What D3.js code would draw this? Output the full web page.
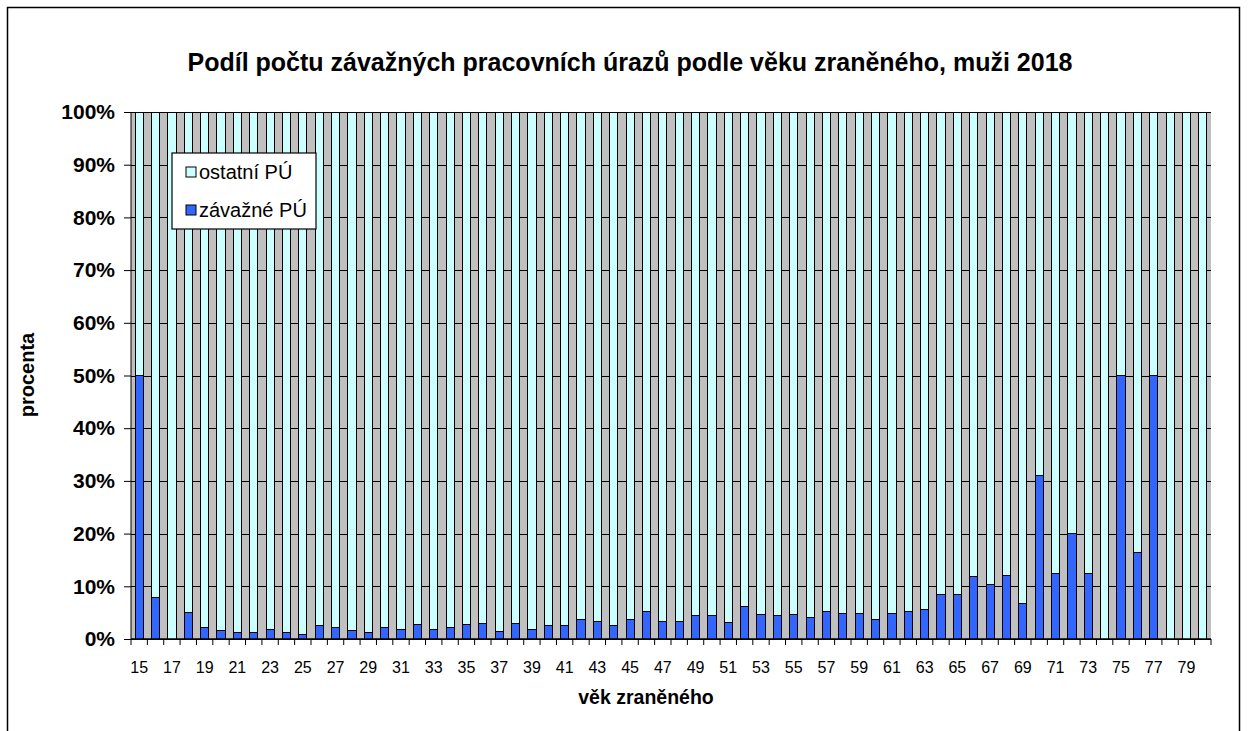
<!DOCTYPE html>
<meta charset="utf-8">
<style>
body { margin: 0; background: #fff; }
text { font-family: "Liberation Sans", Arial, sans-serif; fill: #000; }
.grid line { stroke: #000; stroke-width: 1px; shape-rendering: crispEdges; }
.bar { stroke: #000; stroke-width: 1px; shape-rendering: crispEdges; }
</style>
<body>
<script src="https://d3js.org/d3.v7.min.js"></script>
<script>
// categories: age of the injured person
var ages = ["15","16","17","18","19","20","21","22","23","24","25","26","27","28","29","30","31","32","33","34","35","36","37","38","39","40","41","42","43","44","45","46","47","48","49","50","51","52","53","54","55","56","57","58","59","60","61","62","63","64","65","66","67","68","69","70","71","72","73","74","75","76","77","78","79","80"];

// share of serious injuries (%)
var zavazne = [50,7.8,0,5.1,2.1,1.6,1.3,1.3,1.8,1.3,0.9,2.5,2.2,1.6,1.2,2.2,1.8,2.8,1.8,2.2,2.8,3.0,1.5,3.0,1.8,2.5,2.5,3.7,3.4,2.5,3.7,5.3,3.4,3.4,4.4,4.4,3.1,6.2,4.7,4.4,4.7,4.1,5.3,4.9,4.9,3.7,4.9,5.3,5.6,8.4,8.4,11.8,10.4,12.0,6.7,31.1,12.4,20,12.4,0,50,16.5,50,0,0,0];

// share of other injuries (%)
var ostatni = [50,92.2,100,94.9,97.9,98.4,98.7,98.7,98.2,98.7,99.1,97.5,97.8,98.4,98.8,97.8,98.2,97.2,98.2,97.8,97.2,97.0,98.5,97.0,98.2,97.5,97.5,96.3,96.6,97.5,96.3,94.7,96.6,96.6,95.6,95.6,96.9,93.8,95.3,95.6,95.3,95.9,94.7,95.1,95.1,96.3,95.1,94.7,94.4,91.6,91.6,88.2,89.6,88.0,93.3,68.9,87.6,80,87.6,100,50,83.5,50,100,100,100];

var yTicks = [0,10,20,30,40,50,60,70,80,90,100];
var xLabels = ages.filter(function(d, i) { return i % 2 === 0; });

var W = 1248, H = 731;
var margin = {top: 112, right: 37, bottom: 92, left: 131};
var width = W - margin.left - margin.right,
    height = H - margin.top - margin.bottom;

var svg = d3.select("body").append("svg")
    .attr("width", W)
    .attr("height", H);

// outer frame
svg.append("rect")
    .attr("x", 7.5).attr("y", 7.5)
    .attr("width", 1232).attr("height", 800)
    .attr("fill", "none").attr("stroke", "#000").attr("stroke-width", 1.5);

var g = svg.append("g")
    .attr("transform", "translate(" + margin.left + "," + margin.top + ")");

var x = d3.scaleBand().domain(ages).range([0, width]).paddingInner(0.5).paddingOuter(0.25);
var y = d3.scaleLinear().domain([0, 100]).range([height, 0]);

// plot background
g.append("rect")
    .attr("width", width).attr("height", height)
    .attr("fill", "#c0c0c0");

// gridlines
g.append("g")
    .attr("class", "grid")
    .call(d3.axisLeft(y).tickValues(yTicks).tickSize(-width).tickFormat(""))
    .call(function(s) { s.select(".domain").remove(); });

// stacked bars
var rows = ages.map(function(a, i) { return {age: a, z: zavazne[i], o: ostatni[i]}; });

g.selectAll(".bar-z")
    .data(rows)
  .enter().append("rect")
    .attr("class", "bar")
    .attr("x", function(d) { return x(d.age); })
    .attr("width", x.bandwidth())
    .attr("y", function(d) { return y(d.z); })
    .attr("height", function(d) { return y(0) - y(d.z); })
    .attr("fill", "#3366ff")
    .style("display", function(d) { return d.z > 0 ? null : "none"; });

g.selectAll(".bar-o")
    .data(rows)
  .enter().append("rect")
    .attr("class", "bar")
    .attr("x", function(d) { return x(d.age); })
    .attr("width", x.bandwidth())
    .attr("y", function(d) { return y(d.z + d.o); })
    .attr("height", function(d) { return y(d.z) - y(d.z + d.o); })
    .attr("fill", "#ccffff");

// y axis
var yAxis = g.append("g")
    .call(d3.axisLeft(y).tickValues(yTicks).tickSize(7).tickPadding(9)
        .tickFormat(function(d) { return d + "%"; }));
yAxis.selectAll("text").style("font-size", "21px").style("font-weight", "bold");
yAxis.selectAll("line, path").attr("stroke", "#000");
yAxis.select(".domain").attr("d", "M0," + height + "V0");

// x axis: ticks between categories, labels on every other category
var gap = (x.step() - x.bandwidth()) / 2;
var xAxis = g.append("g").attr("transform", "translate(0," + height + ")");
xAxis.append("line")
    .attr("x1", 0).attr("x2", width)
    .attr("stroke", "#000").attr("stroke-width", 1.5);
xAxis.selectAll(".tk")
    .data(ages.concat(["end"]))
  .enter().append("line")
    .attr("x1", function(d) { return d === "end" ? width : x(d) - gap; })
    .attr("x2", function(d) { return d === "end" ? width : x(d) - gap; })
    .attr("y1", 0).attr("y2", 6)
    .attr("stroke", "#000");
xAxis.selectAll(".lbl")
    .data(xLabels)
  .enter().append("text")
    .attr("x", function(d) { return x(d) + x.bandwidth() / 2; })
    .attr("y", 34)
    .attr("text-anchor", "middle")
    .style("font-size", "16px")
    .text(function(d) { return d; });

// axis titles
svg.append("text")
    .attr("x", 646).attr("y", 704)
    .attr("text-anchor", "middle")
    .style("font-size", "19.5px").style("font-weight", "bold")
    .text("věk zraněného");

svg.append("text")
    .attr("transform", "translate(34,375) rotate(-90)")
    .attr("text-anchor", "middle")
    .style("font-size", "20px").style("font-weight", "bold")
    .text("procenta");

// title
svg.append("text")
    .attr("x", 630).attr("y", 71)
    .attr("text-anchor", "middle")
    .style("font-size", "25px").style("font-weight", "bold")
    .text("Podíl počtu závažných pracovních úrazů podle věku zraněného, muži 2018");

// legend
var leg = svg.append("g").attr("transform", "translate(172,153)");
leg.append("rect")
    .attr("width", 144).attr("height", 76)
    .attr("fill", "#fff").attr("stroke", "#000").attr("stroke-width", 1.2);
var items = [{name: "ostatní PÚ", color: "#ccffff"}, {name: "závažné PÚ", color: "#3366ff"}];
var li = leg.selectAll(".li").data(items).enter().append("g")
    .attr("transform", function(d, i) { return "translate(14," + (19 + i * 38) + ")"; });
li.append("rect")
    .attr("x", 0).attr("y", -5).attr("width", 10).attr("height", 10)
    .attr("fill", function(d) { return d.color; })
    .attr("stroke", "#000");
li.append("text")
    .attr("x", 13).attr("y", 7)
    .style("font-size", "20px")
    .text(function(d) { return d.name; });
</script>
</body>
